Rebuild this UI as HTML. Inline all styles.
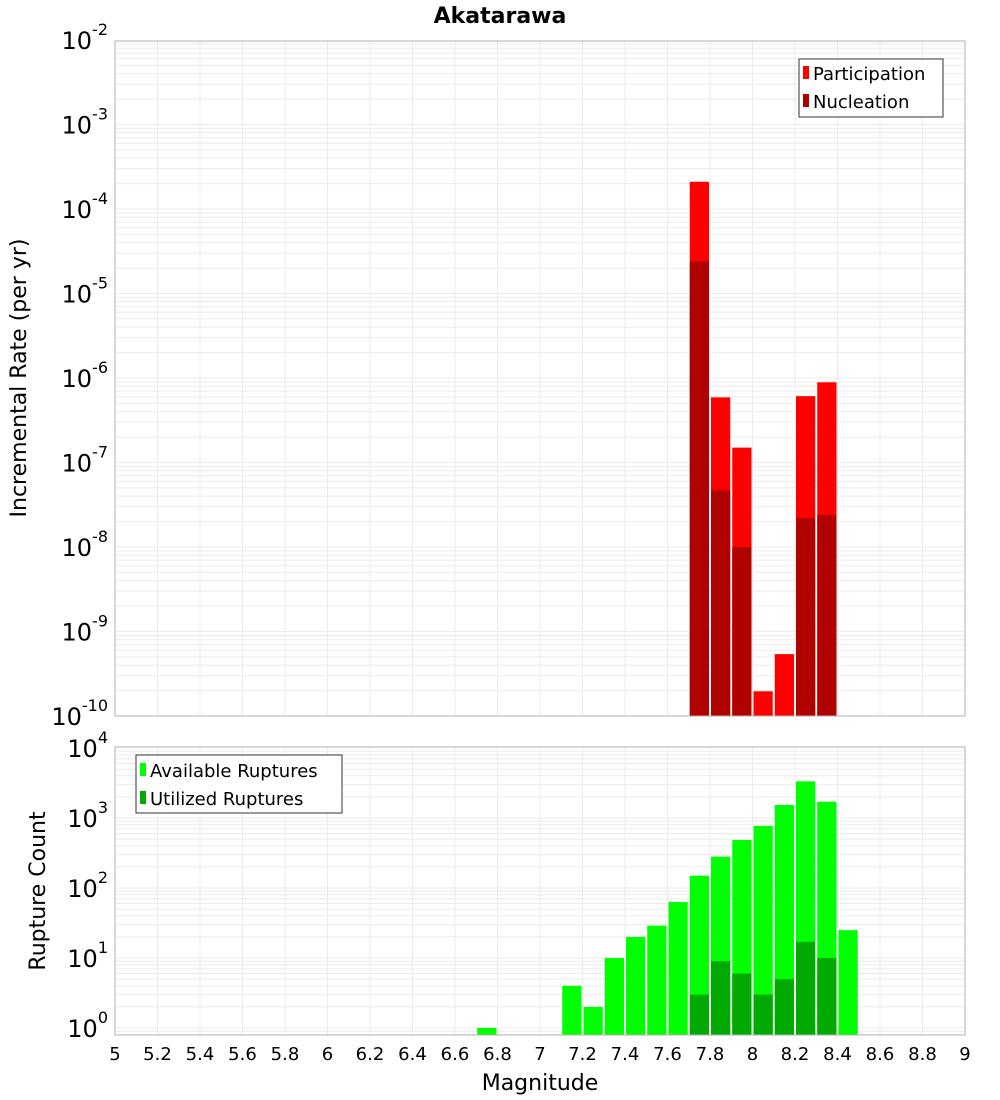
<!DOCTYPE html>
<html><head><meta charset="utf-8"><style>
body{margin:0;background:#fff;}
svg{display:block;font-family:"DejaVu Sans","Liberation Sans",sans-serif;}
</style></head><body>
<svg id="chart" width="1000" height="1100" xmlns="http://www.w3.org/2000/svg">
<rect width="1000" height="1100" fill="#fff"/>
<text x="500" y="23" text-anchor="middle" font-weight="bold" font-size="22">Akatarawa</text>
<g id="p1"></g>
<g id="p2"></g>
<text transform="translate(26,378) rotate(-90)" text-anchor="middle" font-size="22">Incremental Rate (per yr)</text>
<text transform="translate(45,891) rotate(-90)" text-anchor="middle" font-size="22">Rupture Count</text>
<text x="540" y="1090" text-anchor="middle" font-size="22">Magnitude</text>
<g>
<rect x="799" y="59" width="144" height="58" fill="#fff" stroke="#333" stroke-width="1"/>
<rect x="803" y="66" width="6" height="13" fill="#ff0000"/>
<text x="813" y="80" font-size="18">Participation</text>
<rect x="803" y="94" width="6" height="13" fill="#b00000"/>
<text x="813" y="108" font-size="18">Nucleation</text>
</g>
<g>
<rect x="136" y="755" width="206" height="58" fill="#fff" stroke="#333" stroke-width="1"/>
<rect x="140" y="763" width="6" height="13" fill="#00ff00"/>
<text x="150" y="777" font-size="18">Available Ruptures</text>
<rect x="140" y="791" width="6" height="13" fill="#00aa00"/>
<text x="150" y="805" font-size="18">Utilized Ruptures</text>
</g>
</svg>
<script>
const rateMags = [7.75, 7.85, 7.95, 8.05, 8.15, 8.25, 8.35];
const participation = [2.1e-4, 5.9e-7, 1.5e-7, 1.96e-10, 5.4e-10, 6.1e-7, 8.9e-7];
const nucleation = [2.4e-5, 4.7e-8, 1.0e-8, 0, 0, 2.2e-8, 2.4e-8];
const countMags = [6.75, 7.15, 7.25, 7.35, 7.45, 7.55, 7.65, 7.75, 7.85, 7.95, 8.05, 8.15, 8.25, 8.35, 8.45];
const available = [1, 4, 2, 10, 20, 29, 63, 150, 280, 485, 770, 1535, 3340, 1710, 25];
const utilized = [0, 0, 0, 0, 0, 0, 0, 3, 9, 6, 3, 5, 17, 10, 0];
const xTicks = [5,5.2,5.4,5.6,5.8,6,6.2,6.4,6.6,6.8,7,7.2,7.4,7.6,7.8,8,8.2,8.4,8.6,8.8,9];
const rateExps = [-10,-9,-8,-7,-6,-5,-4,-3,-2];
const countExps = [0,1,2,3,4];

const NS="http://www.w3.org/2000/svg";
const X0=115,X1=965,XMIN=5,XMAX=9;
function xs(m){return X0+(m-XMIN)/(XMAX-XMIN)*(X1-X0);}
function mk(tag,attrs,parent){const e=document.createElementNS(NS,tag);for(const k in attrs)e.setAttribute(k,attrs[k]);parent.appendChild(e);return e;}
function y1(v){return 716-(Math.log10(v)+10)*84.5;}
function y2(v){return 1028-Math.log10(v)*70;}

function frame(g,top,bot,ys,lo,hi){
  for(let d=lo;d<hi;d++){for(let k=1;k<10;k++){const y=ys(k*Math.pow(10,d));if(y<top-0.5||y>bot)continue;
    const l=mk('line',{x1:X0,x2:X1,y1:y,y2:y,stroke:'#ebebeb','stroke-width':1},g);
    
    }}
  xTicks.forEach(t=>{const l=mk('line',{x1:xs(t),x2:xs(t),y1:top,y2:bot,stroke:'#ebebeb','stroke-width':1},g);
    
    });
}
function border(g,top,bot){const r=mk('rect',{x:X0,y:top,width:X1-X0,height:bot-top,fill:'none',stroke:'#b0b0b0','stroke-width':1},g);
  
  }
function ylab(g,exp,y,name){
  const t=mk('text',{x:108,y:y+9,'text-anchor':'end','font-size':24},g);
  
  
  t.textContent='10';
  const s=mk('tspan',{dy:-14,'font-size':16},t);s.textContent=String(exp);
}
const bw=(X1-X0)/(XMAX-XMIN)*0.1;
// plot 1
const g1=document.getElementById('p1');
frame(g1,41,716,y1,-10,-2);
participation.forEach((v,i)=>{if(v<=0)return;const y=y1(v);
  const r=mk('rect',{x:xs(rateMags[i]-0.05)+1,y:y,width:bw-2,height:716-y,fill:'#ff0000'},g1);
  
  });
nucleation.forEach((v,i)=>{if(v<=0)return;const y=y1(v);
  const r=mk('rect',{x:xs(rateMags[i]-0.05)+1,y:y,width:bw-2,height:716-y,fill:'#b00000'},g1);
  
  });
border(g1,41,716);
rateExps.forEach(e=>ylab(g1,e,y1(Math.pow(10,e)),'y-tick-label-rate'));
// plot 2
const g2=document.getElementById('p2');
frame(g2,747,1035,y2,-1,4);
available.forEach((v,i)=>{if(v<=0)return;const y=y2(v);
  const r=mk('rect',{x:xs(countMags[i]-0.05)+1,y:y,width:bw-2,height:1035-y,fill:'#00ff00'},g2);
  
  });
utilized.forEach((v,i)=>{if(v<=0)return;const y=y2(v);
  const r=mk('rect',{x:xs(countMags[i]-0.05)+1,y:y,width:bw-2,height:1035-y,fill:'#00aa00'},g2);
  
  });
border(g2,747,1035);
countExps.forEach(e=>ylab(g2,e,y2(Math.pow(10,e)),'y-tick-label-count'));
xTicks.forEach(t=>{const tx=mk('text',{x:xs(t),y:1060,'text-anchor':'middle','font-size':18},g2);
  
  
  tx.textContent=String(t);});
</script>
</body></html>
